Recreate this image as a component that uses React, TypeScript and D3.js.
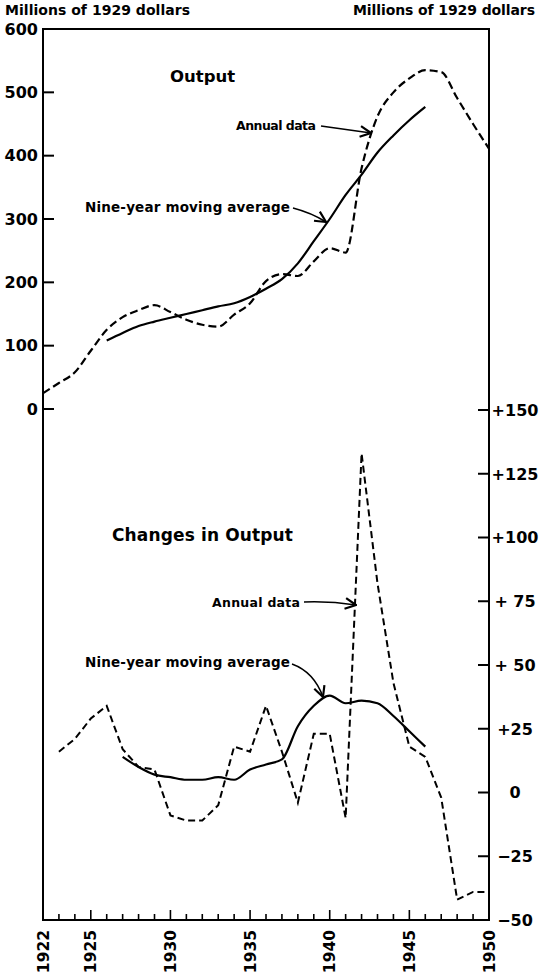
import React from 'react'
import * as d3 from 'd3'

// years on the x axis
const years = [1922, 1923, 1924, 1925, 1926, 1927, 1928, 1929, 1930, 1931, 1932, 1933, 1934, 1935, 1936, 1937, 1938, 1939, 1940, 1941, 1942, 1943, 1944, 1945, 1946, 1947, 1948, 1949, 1950]
const yearLabels = [1922, 1925, 1930, 1935, 1940, 1945, 1950]

// output, annual data 1922-1950
const outputAnnual = [25, 41, 58, 92, 125, 145, 156, 164, 153, 141, 133, 130, 149, 167, 202, 213, 210, 233, 254, 247, 380, 462, 500, 522, 535, 532, 491, 450, 411]
// output, nine-year moving average 1926-1946
const outputAvgYears = [1926, 1927, 1928, 1929, 1930, 1931, 1932, 1933, 1934, 1935, 1936, 1937, 1938, 1939, 1940, 1941, 1942, 1943, 1944, 1945, 1946]
const outputAvg = [108, 120, 131, 138, 144, 150, 156, 162, 167, 177, 190, 205, 230, 265, 300, 338, 370, 405, 432, 456, 477]

// changes in output, annual data 1923-1950
const changeYears = [1923, 1924, 1925, 1926, 1927, 1928, 1929, 1930, 1931, 1932, 1933, 1934, 1935, 1936, 1937, 1938, 1939, 1940, 1941, 1942, 1943, 1944, 1945, 1946, 1947, 1948, 1949, 1950]
const changeAnnual = [16, 21, 29, 34, 17, 10, 9, -9, -11, -11, -5, 18, 16, 34, 16, -4, 23, 23, -10, 133, 82, 43, 18, 14, -2, -42, -39, -39]
// changes in output, nine-year moving average 1927-1946
const changeAvgYears = [1927, 1928, 1929, 1930, 1931, 1932, 1933, 1934, 1935, 1936, 1937, 1938, 1939, 1940, 1941, 1942, 1943, 1944, 1945, 1946]
const changeAvg = [14, 10, 7, 6, 5, 5, 6, 5, 9, 11, 13, 26, 34, 38, 35, 36, 35, 30, 24, 18]

// tick labels
const leftTicks = [0, 100, 200, 300, 400, 500, 600]
const rightTicks = [-50, -25, 0, 25, 50, 75, 100, 125, 150]
const rightLabels = ['\u221250', '\u221225', '0', '+25', '+ 50', '+ 75', '+100', '+125', '+150']

const width = 539
const height = 972
const left = 43
const right = 489
const top = 29
const bottom = 920
const font = '"DejaVu Sans", sans-serif'

const App = () => {
  const x = d3.scaleLinear().domain([1922, 1950]).range([left, right])
  const yTop = d3.scaleLinear().domain([0, 600]).range([409, top])
  const yBot = d3.scaleLinear().domain([-50, 150]).range([bottom, 410])

  const pairs = (xs: number[], vs: number[]) => xs.map((d, i) => [d, vs[i]] as [number, number])

  const topLine = d3
    .line<[number, number]>()
    .x((d) => x(d[0]))
    .y((d) => yTop(d[1]))
    .curve(d3.curveMonotoneX)

  const botSmooth = d3
    .line<[number, number]>()
    .x((d) => x(d[0]))
    .y((d) => yBot(d[1]))
    .curve(d3.curveMonotoneX)

  const botLinear = d3
    .line<[number, number]>()
    .x((d) => x(d[0]))
    .y((d) => yBot(d[1]))

  return (
    <svg
      width={width}
      height={height}
      style={{ position: 'absolute', left: 0, top: 0, background: 'white' }}
      fontFamily={font}
      fontWeight="bold"
    >
      <defs>
        <marker id="arrow" viewBox="0 0 10 10" refX="9" refY="5" markerWidth="9" markerHeight="9" orient="auto">
          <path d="M1,1 L9,5 L1,9" fill="none" stroke="black" strokeWidth="1.6" />
        </marker>
      </defs>

      {/* unit labels */}
      <text x={5} y={15} fontSize={14} textLength={185}>Millions of 1929 dollars</text>
      <text x={353} y={15} fontSize={14} textLength={182}>Millions of 1929 dollars</text>

      {/* frame */}
      <path
        d={`M${left},${bottom} L${left},${top} L${right},${top} L${right},${bottom} Z`}
        fill="none"
        stroke="black"
        strokeWidth={2}
      />

      {/* left axis ticks (output) */}
      {leftTicks.map((t) => (
        <g key={'l' + t}>
          <line x1={left} x2={left + 11} y1={yTop(t)} y2={yTop(t)} stroke="black" strokeWidth={2} />
          <text x={38} y={yTop(t)} dy="0.36em" textAnchor="end" fontSize={16}>
            {t}
          </text>
        </g>
      ))}

      {/* right axis ticks (changes) */}
      {rightTicks.map((t, i) => (
        <g key={'r' + t}>
          <line x1={right - 11} x2={right} y1={yBot(t)} y2={yBot(t)} stroke="black" strokeWidth={2} />
          <text x={515} y={yBot(t)} dy="0.36em" textAnchor="middle" fontSize={16}>
            {rightLabels[i]}
          </text>
        </g>
      ))}

      {/* x axis ticks */}
      {years.map((yr) => (
        <line
          key={'x' + yr}
          x1={x(yr)}
          x2={x(yr)}
          y1={bottom}
          y2={bottom - (yr % 5 === 0 ? 10 : 6)}
          stroke="black"
          strokeWidth={1.6}
        />
      ))}
      {yearLabels.map((yr) => (
        <text
          key={'xl' + yr}
          transform={`translate(${x(yr)},930) rotate(-90)`}
          dy="0.36em"
          textAnchor="end"
          fontSize={15.5}
        >
          {yr}
        </text>
      ))}

      {/* output */}
      <path d={topLine(pairs(years, outputAnnual)) || ''} fill="none" stroke="black" strokeWidth={2.2} strokeDasharray="8 4" />
      <path d={topLine(pairs(outputAvgYears, outputAvg)) || ''} fill="none" stroke="black" strokeWidth={2.2} />

      {/* changes in output */}
      <path d={botLinear(pairs(changeYears, changeAnnual)) || ''} fill="none" stroke="black" strokeWidth={2} strokeDasharray="7 4" />
      <path d={botSmooth(pairs(changeAvgYears, changeAvg)) || ''} fill="none" stroke="black" strokeWidth={2.2} />

      {/* titles and notes */}
      <text x={170} y={82} fontSize={16.5}>Output</text>
      <text x={236} y={130} fontSize={12.5} textLength={80}>Annual data</text>
      <path d="M321,126 L371,133" fill="none" stroke="black" strokeWidth={1.5} markerEnd="url(#arrow)" />
      <text x={85} y={212} fontSize={13.5} textLength={205}>Nine-year moving average</text>
      <path d="M293,208 Q312,213 326,222" fill="none" stroke="black" strokeWidth={1.5} markerEnd="url(#arrow)" />

      <text x={112} y={541} fontSize={17} textLength={181}>Changes in Output</text>
      <text x={212} y={607} fontSize={12.5} textLength={88}>Annual data</text>
      <path d="M304,602 Q330,601 356,605" fill="none" stroke="black" strokeWidth={1.5} markerEnd="url(#arrow)" />
      <text x={85} y={667} fontSize={13.5} textLength={205}>Nine-year moving average</text>
      <path d="M292,664 Q314,672 323,697" fill="none" stroke="black" strokeWidth={1.5} markerEnd="url(#arrow)" />
    </svg>
  )
}

export default App
